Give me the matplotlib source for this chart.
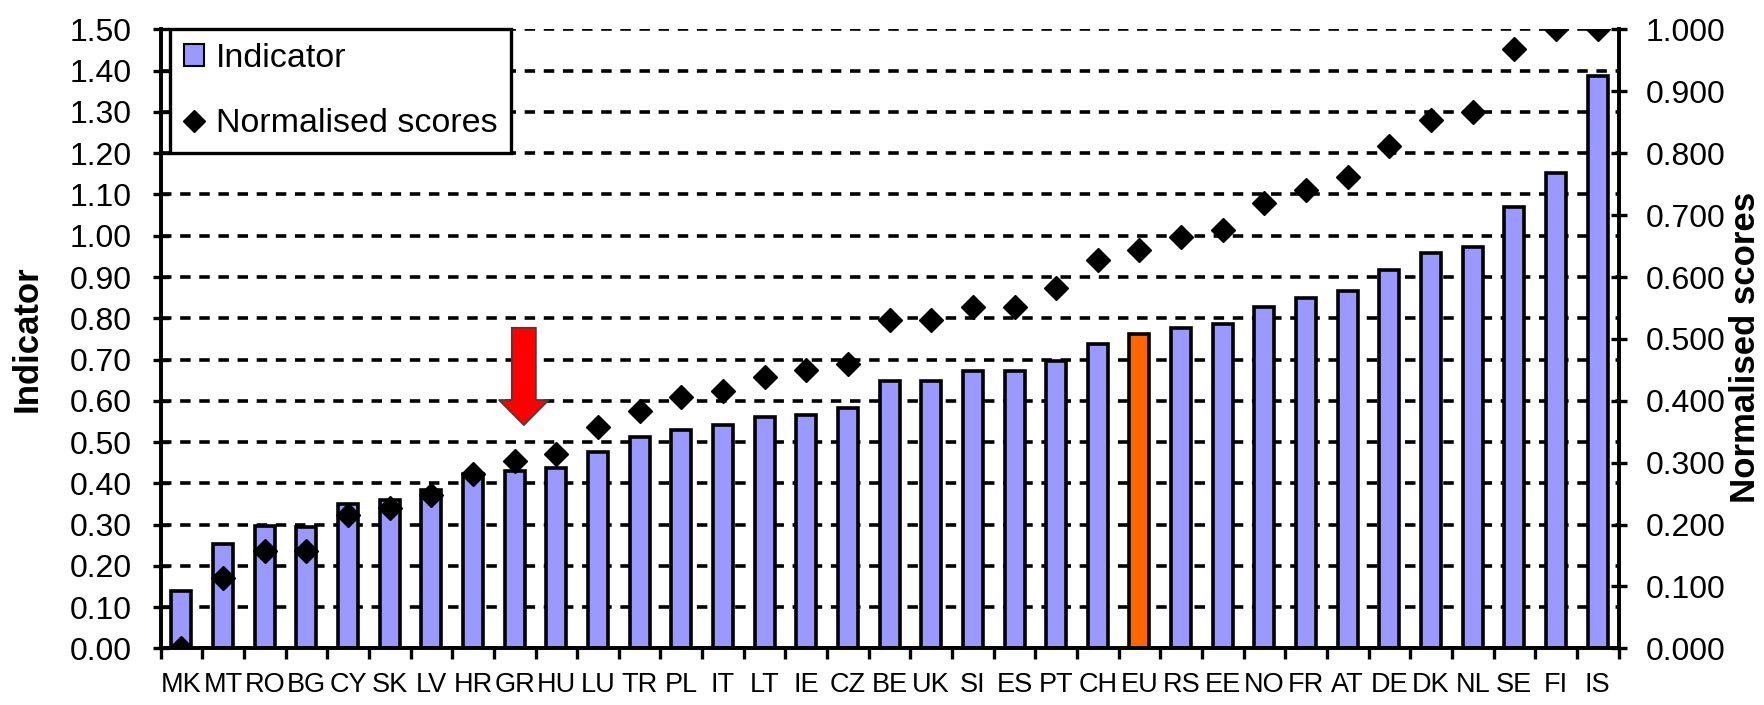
import numpy as np
import matplotlib
matplotlib.use('Agg')
import matplotlib.pyplot as plt
from matplotlib import font_manager
from matplotlib.patches import Polygon, Patch
from matplotlib.lines import Line2D
from matplotlib.ticker import MultipleLocator, FormatStrFormatter

plt.rcParams['font.family'] = ['Liberation Sans', 'DejaVu Sans']

# Data
countries = ["MK", "MT", "RO", "BG", "CY", "SK", "LV", "HR", "GR", "HU", "LU", "TR",
             "PL", "IT", "LT", "IE", "CZ", "BE", "UK", "SI", "ES", "PT", "CH", "EU",
             "RS", "EE", "NO", "FR", "AT", "DE", "DK", "NL", "SE", "FI", "IS"]
indicator = [0.14, 0.252, 0.297, 0.295, 0.351, 0.359, 0.383, 0.423, 0.43, 0.438,
             0.477, 0.511, 0.528, 0.542, 0.56, 0.566, 0.583, 0.649, 0.649, 0.673,
             0.673, 0.697, 0.737, 0.761, 0.777, 0.785, 0.827, 0.85, 0.867, 0.917,
             0.957, 0.972, 1.07, 1.152, 1.387]
normalised = [0.0, 0.113, 0.157, 0.157, 0.216, 0.227, 0.247, 0.281, 0.302, 0.314,
              0.357, 0.384, 0.406, 0.416, 0.438, 0.449, 0.46, 0.53, 0.53, 0.551,
              0.551, 0.583, 0.627, 0.643, 0.664, 0.676, 0.719, 0.74, 0.762, 0.811,
              0.854, 0.866, 0.968, 1.0, 1.0]
highlight = "EU"
arrow_country = "GR"

bar_col = '#9999FF'
hl_col = '#FF6600'
fs = 23

# narrow face for the crowded country labels, if it is there
names = {f.name for f in font_manager.fontManager.ttflist}
if 'Liberation Sans Narrow' in names:
    xfont, xfs = 'Liberation Sans Narrow', 22
else:
    xfont, xfs = 'Liberation Sans', 19.5

fig = plt.figure(figsize=(17.65, 7.05), dpi=100)
ax = fig.add_axes([0.091, 0.0804, 0.826, 0.8778])
ax2 = ax.twinx()

x = np.arange(len(countries))
colors = [hl_col if c == highlight else bar_col for c in countries]
ax.bar(x, indicator, width=0.48, color=colors, edgecolor='black', linewidth=2.6, zorder=2)

ax.set_xlim(-0.5, len(countries) - 0.5)
ax.set_ylim(0, 1.5)
ax.yaxis.set_major_locator(MultipleLocator(0.1))
ax.yaxis.set_major_formatter(FormatStrFormatter('%.2f'))
ax.set_axisbelow(True)
ax.grid(axis='y', color='black', linewidth=2.6, linestyle=(0, (2.9, 2.4)), zorder=0)

ax.set_xticks(x)
ax.set_xticklabels(countries, fontfamily=xfont, fontsize=xfs)
ax.set_xticks(np.arange(-0.5, len(countries)), minor=True)
ax.tick_params(axis='x', which='major', length=0, pad=17)
ax.tick_params(axis='x', which='minor', length=8, width=2.4, direction='out')
ax.tick_params(axis='y', which='major', length=12, width=2.4, direction='inout', pad=15, labelsize=fs)

ax2.plot(x, normalised, linestyle='none', marker='D', markersize=12, color='black', zorder=3)
ax2.set_ylim(0, 1.0)
ax2.yaxis.set_major_locator(MultipleLocator(0.1))
ax2.yaxis.set_major_formatter(FormatStrFormatter('%.3f'))
ax2.tick_params(axis='y', length=11, width=2.4, direction='inout', pad=14, labelsize=fs)

for a in (ax, ax2):
    a.spines['top'].set_visible(False)
    for s in ('left', 'right', 'bottom'):
        a.spines[s].set_linewidth(2.6)

# red arrow pointing at GR (data units: x offset, shaft/head sizes)
gi = countries.index(arrow_country) + 0.22
top, head_base, tip = 0.777, 0.602, 0.541
sw, hw = 0.29, 0.6
arrow_pts = [(gi - sw, top), (gi + sw, top), (gi + sw, head_base), (gi + hw, head_base),
             (gi, tip), (gi - hw, head_base), (gi - sw, head_base)]
ax.add_patch(Polygon(arrow_pts, closed=True, facecolor='#FF0000', edgecolor='#404040',
                     linewidth=1.2, zorder=4))

fig.text(0.0156, 0.52, 'Indicator', rotation=90, ha='center', va='center',
         fontsize=25, fontweight='bold')
fig.text(0.989, 0.507, 'Normalised scores', rotation=90, ha='center', va='center',
         fontsize=25, fontweight='bold')

handles = [Patch(facecolor=bar_col, edgecolor='black', linewidth=1.5),
           Line2D([], [], linestyle='none', marker='D', markersize=11, color='black')]
leg = ax2.legend(handles, ['Indicator', 'Normalised scores'], loc='upper left',
                 bbox_to_anchor=(0.0064, 1.0), borderaxespad=0, fontsize=24.5,
                 frameon=True, fancybox=False, framealpha=1, edgecolor='black',
                 handlelength=0.6, handleheight=0.6, handletextpad=0.35,
                 labelspacing=1.0, borderpad=0.4)
leg.get_frame().set_linewidth(2.4)
leg.set_zorder(10)

fig.savefig('out.png', dpi=100)
